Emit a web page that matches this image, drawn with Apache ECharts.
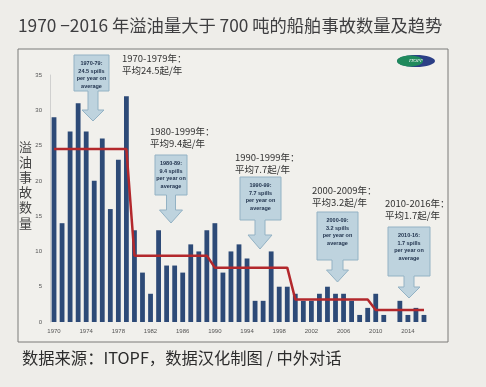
<!DOCTYPE html>
<html><head><meta charset="utf-8">
<script src="https://cdn.jsdelivr.net/npm/echarts@6/dist/echarts.min.js"></script>
<style>html,body{margin:0;padding:0;background:#eeede9;}#c{width:486px;height:387px;}</style>
</head><body><div id="c"></div>
<script>
var years = [];
for (var y = 1970; y <= 2016; y++) years.push(String(y));
var spills = [29,14,27,31,27,20,26,16,23,32,
              13,7,4,13,8,8,7,11,10,13,
              14,7,10,11,9,3,3,10,5,5,
              4,3,3,4,5,4,4,3,1,2,
              4,1,0,3,1,2,1];
var periodAvg = [24.5,24.5,24.5,24.5,24.5,24.5,24.5,24.5,24.5,24.5,
                 9.4,9.4,9.4,9.4,9.4,9.4,9.4,9.4,9.4,9.4,
                 7.7,7.7,7.7,7.7,7.7,7.7,7.7,7.7,7.7,7.7,
                 3.2,3.2,3.2,3.2,3.2,3.2,3.2,3.2,3.2,3.2,
                 1.7,1.7,1.7,1.7,1.7,1.7,1.7];
var periodLabels = [
  {t:'1970-1979年：\n平均24.5起/年', x:122, y:52},
  {t:'1980-1999年：\n平均9.4起/年', x:150, y:125},
  {t:'1990-1999年：\n平均7.7起/年', x:235, y:151},
  {t:'2000-2009年：\n平均3.2起/年', x:312, y:184},
  {t:'2010-2016年：\n平均1.7起/年', x:385, y:197}
];
var calloutTexts = ['1970-79:\n24.5 spills\nper year on\naverage',
                    '1980-89:\n9.4 spills\nper year on\naverage',
                    '1990-99:\n7.7 spills\nper year on\naverage',
                    '2000-09:\n3.2 spills\nper year on\naverage',
                    '2010-16:\n1.7 spills\nper year on\naverage'];
var callouts = [
  {x0:74,y0:55,x1:109,y1:91,cx:93,sw:5,y2:110,hw:11,y3:121},
  {x0:155,y0:155,x1:187,y1:195,cx:171,sw:4.5,y2:210,hw:11.5,y3:223},
  {x0:240,y0:177,x1:281,y1:220,cx:260,sw:5,y2:235,hw:12,y3:249},
  {x0:317,y0:212,x1:358,y1:260,cx:337.5,sw:5.5,y2:270,hw:11,y3:282},
  {x0:388,y0:227,x1:430,y1:276,cx:409,sw:5,y2:287,hw:11,y3:298}
];

var graphics = [
  {type:'rect', shape:{x:18,y:49,width:430,height:293}, style:{fill:'#f1f0ec',stroke:'#7a7a78',lineWidth:1}, z:-10},
  {type:'text', left:18, top:17, style:{text:'1970 −2016 年溢油量大于 700 吨的船舶事故数量及趋势', font:'17.3px "Noto Sans CJK SC", sans-serif', fill:'#3e3e40'}},
  {type:'text', left:22, top:350, style:{text:'数据来源：ITOPF，数据汉化制图 / 中外对话', font:'16.3px "Noto Sans CJK SC", serif', fill:'#2c2c2c'}},
  {type:'text', left:19, top:139, style:{text:'溢\n油\n事\n故\n数\n量', font:'13px "Noto Sans CJK SC", sans-serif', lineHeight:15.2, fill:'#444'}},
  {type:'ellipse', shape:{cx:416,cy:61,rx:19,ry:6}, style:{fill:'#2c3f86'}},
  {type:'ellipse', shape:{cx:410,cy:61,rx:13,ry:5.5}, style:{fill:'#1f8a5c'}},
  {type:'text', x:416, y:61, style:{text:'ITOPF', font:'italic 5px serif', fill:'#fff', align:'center', verticalAlign:'middle'}}
];
periodLabels.forEach(function(p){
  graphics.push({type:'text', left:p.x, top:p.y, style:{text:p.t, font:'9.5px "Noto Sans CJK SC", sans-serif', lineHeight:12.5, fill:'#333'}});
});
callouts.forEach(function(c, i){
  graphics.push({type:'polygon', shape:{points:[[c.x0,c.y0],[c.x1,c.y0],[c.x1,c.y1],[c.cx+c.sw,c.y1],[c.cx+c.sw,c.y2],[c.cx+c.hw,c.y2],[c.cx,c.y3],[c.cx-c.hw,c.y2],[c.cx-c.sw,c.y2],[c.cx-c.sw,c.y1],[c.x0,c.y1]]},
    style:{fill:'#bed3de',stroke:'#93b2c4',lineWidth:1}, z:5});
  graphics.push({type:'text', x:(c.x0+c.x1)/2, y:c.y0+5, z:6, style:{text:calloutTexts[i], font:'bold 5.5px "Liberation Sans", sans-serif', lineHeight:7.5, fill:'#1d2f4a', align:'center'}});
});

var chart = echarts.init(document.getElementById('c'));
chart.setOption({
  backgroundColor:'#eeede9',
  animation:false,
  grid:{left:50, right:58, top:75, bottom:65},
  xAxis:{type:'category', data:years,
    axisLine:{show:false}, axisTick:{show:false},
    axisLabel:{interval:3, fontSize:6, color:'#555', margin:6}},
  yAxis:{type:'value', min:0, max:35, interval:5,
    axisLine:{show:true, lineStyle:{color:'#c8c8c8', width:0.8}},
    axisTick:{show:false}, splitLine:{show:false},
    axisLabel:{fontSize:6, color:'#555', margin:8}},
  series:[
    {type:'bar', data:spills, barWidth:4.8, itemStyle:{color:'#2d4a77'}},
    {type:'line', data:periodAvg, symbol:'none', z:3, lineStyle:{color:'#b3282c', width:2.5}}
  ],
  graphic:graphics
});
</script></body></html>
